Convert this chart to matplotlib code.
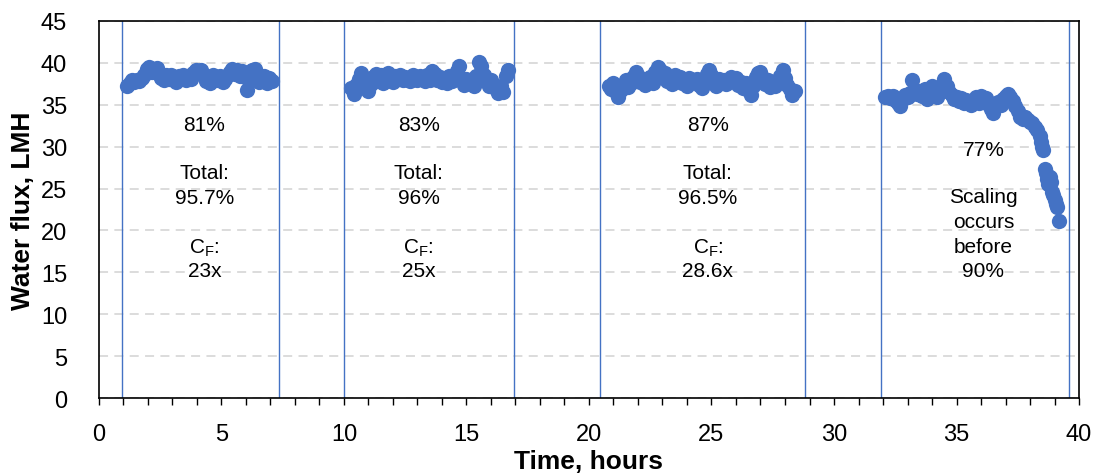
import matplotlib
matplotlib.use("Agg")
import matplotlib.pyplot as plt
from matplotlib.ticker import MultipleLocator

plt.rcParams['font.family'] = ['Liberation Sans', 'DejaVu Sans']
plt.rcParams['mathtext.default'] = 'regular'

BLUE = '#4472C4'

# flux runs, hours vs LMH
t_run1 = [1.15, 1.25, 1.35, 1.45, 1.55, 1.65, 1.75, 1.85, 1.95, 2.05,
          2.15, 2.25, 2.35, 2.45, 2.55, 2.65, 2.75, 2.85, 2.95, 3.05,
          3.15, 3.25, 3.35, 3.45, 3.55, 3.65, 3.75, 3.85, 3.95, 4.05,
          4.15, 4.25, 4.35, 4.45, 4.55, 4.65, 4.75, 4.85, 4.95, 5.05,
          5.15, 5.25, 5.35, 5.45, 5.55, 5.65, 5.75, 5.85, 5.95, 6.05,
          6.15, 6.25, 6.35, 6.45, 6.55, 6.65, 6.75, 6.85, 6.95, 7.05]
flux_run1 = [37.3, 37.6, 37.9, 37.7, 38.0, 37.8, 38.2, 38.6, 39.3, 39.5,
             38.9, 39.1, 39.4, 38.7, 38.2, 37.9, 38.5, 38.1, 38.6, 38.0,
             37.7, 38.4, 38.2, 38.6, 37.9, 38.3, 38.1, 38.8, 39.1, 38.9,
             39.2, 38.5, 37.8, 38.3, 37.6, 38.6, 38.2, 38.0, 38.4, 37.7,
             38.1, 38.5, 38.9, 39.3, 38.7, 39.2, 38.4, 39.0, 38.3, 36.8,
             37.9, 39.1, 39.3, 38.5, 37.7, 38.0, 38.4, 37.6, 38.2, 37.8]

t_run2 = [10.3, 10.4, 10.5, 10.6, 10.7, 10.8, 10.9, 11.0, 11.1, 11.2,
          11.3, 11.4, 11.5, 11.6, 11.7, 11.8, 11.9, 12.0, 12.1, 12.2,
          12.3, 12.4, 12.5, 12.6, 12.7, 12.8, 12.9, 13.0, 13.1, 13.2,
          13.3, 13.4, 13.5, 13.6, 13.7, 13.8, 13.9, 14.0, 14.1, 14.2,
          14.3, 14.4, 14.5, 14.6, 14.7, 14.8, 14.9, 15.0, 15.1, 15.2,
          15.3, 15.4, 15.5, 15.6, 15.7, 15.8, 15.9, 16.0, 16.1, 16.2,
          16.3, 16.4, 16.5, 16.6, 16.7]
flux_run2 = [37.0, 36.3, 37.4, 38.1, 38.8, 37.9, 37.2, 36.6, 37.5, 38.3,
             38.7, 37.8, 38.5, 37.6, 38.2, 38.8, 38.0, 37.7, 38.4, 38.1,
             38.6, 37.9, 38.3, 38.0, 37.8, 38.5, 38.1, 37.9, 38.4, 38.2,
             37.8, 38.6, 38.0, 39.0, 38.7, 37.9, 38.3, 37.7, 38.1, 37.6,
             38.4, 37.8, 38.2, 39.0, 39.6, 38.0, 37.4, 38.1, 37.6, 37.9,
             37.3, 38.4, 40.1, 39.6, 38.6, 37.8, 37.2, 37.9, 37.4, 36.9,
             36.4, 37.3, 36.5, 38.4, 39.1]

t_run3 = [20.8, 20.9, 21.0, 21.1, 21.2, 21.3, 21.4, 21.5, 21.6, 21.7,
          21.8, 21.9, 22.0, 22.1, 22.2, 22.3, 22.4, 22.5, 22.6, 22.7,
          22.8, 22.9, 23.0, 23.1, 23.2, 23.3, 23.4, 23.5, 23.6, 23.7,
          23.8, 23.9, 24.0, 24.1, 24.2, 24.3, 24.4, 24.5, 24.6, 24.7,
          24.8, 24.9, 25.0, 25.1, 25.2, 25.3, 25.4, 25.5, 25.6, 25.7,
          25.8, 25.9, 26.0, 26.1, 26.2, 26.3, 26.4, 26.5, 26.6, 26.7,
          26.8, 26.9, 27.0, 27.1, 27.2, 27.3, 27.4, 27.5, 27.6, 27.7,
          27.8, 27.9, 28.0, 28.1, 28.2, 28.3, 28.4]
flux_run3 = [37.2, 36.9, 37.6, 36.5, 35.9, 36.8, 37.3, 37.9, 37.1, 37.6,
             38.3, 38.9, 38.4, 37.7, 38.1, 37.4, 37.9, 38.3, 37.6, 38.9,
             39.5, 39.1, 38.4, 38.8, 37.8, 38.2, 37.5, 38.6, 37.9, 38.3,
             37.6, 38.0, 37.3, 38.2, 37.7, 37.9, 38.1, 37.4, 37.0, 38.0,
             38.7, 39.2, 38.6, 37.9, 37.2, 38.1, 37.6, 38.0, 37.5, 37.8,
             38.3, 37.9, 38.2, 37.4, 37.7, 37.0, 37.6, 36.8, 36.2, 37.2,
             38.3, 38.8, 38.9, 38.2, 37.5, 37.9, 37.1, 37.6, 37.3, 37.8,
             38.4, 39.1, 38.2, 37.4, 36.9, 36.2, 36.6]

t_run4 = [32.1, 32.2, 32.3, 32.4, 32.5, 32.6, 32.7, 32.8, 32.9, 33.0,
          33.1, 33.2, 33.3, 33.4, 33.5, 33.6, 33.7, 33.8, 33.9, 34.0,
          34.1, 34.2, 34.3, 34.4, 34.5, 34.6, 34.7, 34.8, 34.9, 35.0,
          35.1, 35.2, 35.3, 35.4, 35.5, 35.6, 35.7, 35.8, 35.9, 36.0,
          36.1, 36.2, 36.3, 36.4, 36.5, 36.6, 36.7, 36.8, 36.9, 37.0,
          37.1, 37.2, 37.3, 37.4, 37.5, 37.6, 37.7, 37.8, 37.9, 38.0,
          38.1, 38.2, 38.3, 38.4, 38.45, 38.5, 38.55, 38.6, 38.65, 38.7,
          38.75, 38.8, 38.85, 38.9, 38.95, 39.0, 39.05, 39.1, 39.2]
flux_run4 = [35.9, 36.0, 35.8, 36.1, 35.6, 35.2, 34.8, 35.7, 36.2, 35.9,
             36.4, 37.9, 36.8, 36.3, 36.6, 36.0, 36.9, 35.7, 36.5, 37.2,
             36.4, 35.9, 36.8, 37.1, 38.1, 37.3, 36.5, 36.2, 35.7, 35.9,
             35.4, 35.8, 35.2, 35.6, 35.3, 35.0, 35.6, 35.9, 35.2, 36.0,
             35.4, 35.8, 35.1, 34.5, 34.0, 34.8, 35.3, 35.0, 35.7, 36.0,
             36.3, 35.9, 35.4, 34.8, 34.2, 33.6, 33.3, 33.5, 33.2, 33.0,
             32.8, 32.4, 32.0, 31.3, 30.6, 30.0, 29.6, 27.3, 26.8, 26.2,
             25.6, 26.4, 25.8, 24.6, 24.2, 23.6, 23.2, 22.8, 21.1]

# run boundaries, hours
run_edges = [0.95, 7.35, 10.0, 16.95, 20.45, 28.8, 31.9, 39.6]

# annotations per run
label_x = [4.3, 13.05, 24.85, 36.1]
recovery = ['81%', '83%', '87%', '77%']
total_recovery = ['95.7%', '96%', '96.5%']
conc_factor = ['23x', '25x', '28.6x']


def main():
    fig = plt.figure(figsize=(10.96, 4.77), dpi=100)
    ax = fig.add_axes([0.0903, 0.1635, 0.8942, 0.7904])

    ax.set_xlim(0, 40)
    ax.set_ylim(0, 45)

    ax.grid(True, axis='y', color='#D9D9D9', linestyle=(0, (5, 3.5)),
            linewidth=1.3, zorder=0)
    ax.set_axisbelow(True)

    for xe in run_edges:
        ax.axvline(xe, color=BLUE, linewidth=1.0, zorder=2)

    for t, f in [(t_run1, flux_run1), (t_run2, flux_run2),
                 (t_run3, flux_run3), (t_run4, flux_run4)]:
        ax.plot(t, f, 'o', color=BLUE, markersize=11,
                markeredgewidth=0, zorder=3)

    # recovery text blocks
    fs = 15
    for i in range(3):
        x = label_x[i]
        ax.text(x, 32.7, recovery[i], ha='center', va='center', fontsize=fs)
        ax.text(x, 26.9, 'Total:', ha='center', va='center', fontsize=fs)
        ax.text(x, 23.9, total_recovery[i], ha='center', va='center', fontsize=fs)
        ax.text(x, 18.0, 'C$_{F}$:', ha='center', va='center', fontsize=fs)
        ax.text(x, 15.2, conc_factor[i], ha='center', va='center', fontsize=fs)

    x = label_x[3]
    ax.text(x, 29.7, recovery[3], ha='center', va='center', fontsize=fs)
    for yy, line in zip([24.1, 21.1, 18.1, 15.2],
                        ['Scaling', 'occurs', 'before', '90%']):
        ax.text(x, yy, line, ha='center', va='center', fontsize=fs)

    ax.xaxis.set_major_locator(MultipleLocator(5))
    ax.xaxis.set_minor_locator(MultipleLocator(1))
    ax.yaxis.set_major_locator(MultipleLocator(5))
    ax.tick_params(axis='x', which='both', direction='out', length=5,
                   width=1.0, color='black', labelsize=17, pad=13)
    ax.tick_params(axis='y', length=0, labelsize=17, pad=23)

    for sp in ax.spines.values():
        sp.set_linewidth(1.2)
        sp.set_color('black')

    ax.set_xlabel('Time, hours', fontsize=19, fontweight='bold', labelpad=3)
    ax.set_ylabel('Water flux, LMH', fontsize=19, fontweight='bold', labelpad=4)

    fig.savefig('out.png', dpi=100)


if __name__ == "__main__":
    main()
